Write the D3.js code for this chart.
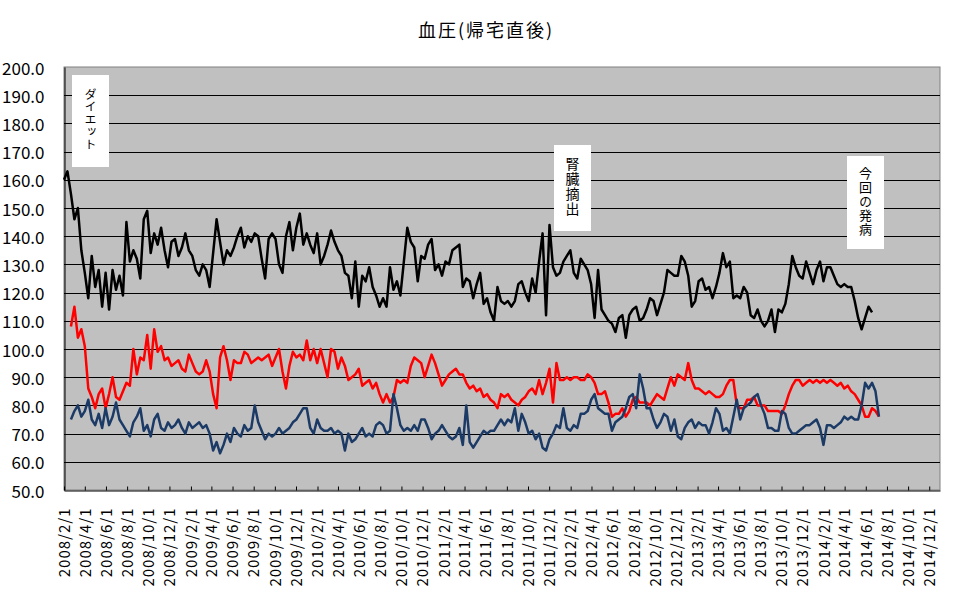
<!DOCTYPE html>
<html>
<head>
<meta charset="utf-8">
<script src="https://cdn.jsdelivr.net/npm/d3@7"></script>
<style>
  body { margin: 0; background: #fff; }
  text { font-family: "Noto Sans CJK JP", sans-serif; fill: #000; }
</style>
</head>
<body>
<script>
// 血圧(帰宅直後) - readings sampled every 10 days from the daily chart
const title = "血圧(帰宅直後)";
const startDate = new Date(2008, 1, 1);
const endDate = new Date(2015, 0, 1);
const stepDays = 10;

const systolic = [
  160, 163, 155, 146, 150, 135, 127, 118, 133, 122,
  128, 115, 127, 114, 128, 121, 126, 119, 145, 131,
  135, 132, 125, 146, 149, 134, 141, 137, 143, 135,
  129, 138, 139, 133, 136, 141, 135, 133, 128, 126,
  130, 128, 122, 134, 146, 138, 130, 135, 133, 136,
  140, 143, 136, 140, 138, 141, 140, 132, 125, 139,
  141, 139, 130, 127, 140, 145, 135, 143, 148, 137,
  141, 137, 134, 141, 130, 133, 137, 142, 138, 135,
  133, 127, 126, 118, 131, 115, 126, 124, 129, 122,
  119, 115, 118, 115, 129, 121, 124, 119, 131, 143,
  138, 136, 124, 133, 132, 137, 139, 128, 130, 126,
  131, 130, 135, 136, 137, 122, 125, 124, 118, 123,
  127, 116, 118, 113, 110, 122, 117, 116, 117, 115,
  117, 123, 124, 120, 117, 125, 120, 131, 141, 112,
  144, 129, 126, 127, 131, 133, 135, 127, 125, 132,
  130, 128, 123, 111, 128, 114, 112, 110, 109, 106,
  111, 112, 104, 112, 114, 115, 110, 111, 114, 118,
  117, 112, 116, 120, 128, 127, 126, 126, 133, 131,
  126, 115, 117, 124, 125, 121, 122, 118, 122, 127,
  134, 129, 131, 118, 119, 118, 122, 120, 112, 111,
  114, 110, 108, 110, 114, 106, 114, 113, 116, 123,
  133, 129, 126, 125, 131, 127, 123, 128, 131, 124,
  129, 129, 126, 123, 122, 123, 122, 122, 117, 111,
  107, 111, 115, 113
];

const diastolic = [
  null, null, 108, 115, 104, 107, 101, 86, 83, 79,
  84, 86, 79, 84, 90, 83, 82, 85, 88, 87,
  100, 91, 97, 96, 105, 93, 107, 99, 101, 96,
  97, 94, 95, 96, 93, 92, 98, 95, 92, 91,
  92, 96, 92, 84, 79, 97, 101, 96, 89, 96,
  95, 95, 99, 98, 95, 96, 97, 96, 97, 98,
  94, 97, 100, 92, 86, 94, 99, 97, 98, 96,
  103, 96, 100, 95, 100, 95, 90, 100, 99, 93,
  97, 94, 89, 90, 91, 93, 87, 88, 89, 86,
  88, 84, 81, 84, 81, 83, 89, 88, 89, 88,
  94, 97, 96, 95, 90, 94, 98, 95, 91, 87,
  89, 91, 92, 93, 91, 91, 88, 86, 87, 85,
  86, 83, 84, 82, 81, 79, 84, 83, 84, 82,
  81, 80, 82, 83, 85, 86, 84, 89, 84, 88,
  93, 81, 95, 89, 89, 90, 89, 90, 90, 89,
  89, 91, 90, 88, 84, 84, 85, 81, 76, 77,
  77, 79, 76, 78, 82, 83, 81, 81, 81, 80,
  82, 84, 83, 82, 86, 90, 87, 91, 90, 89,
  95, 89, 86, 86, 85, 84, 85, 84, 83, 83,
  84, 87, 89, 89, 80, 79, 79, 82, 82, 83,
  80, 80, 80, 78, 78, 78, 78, 77, 80, 84,
  87, 89, 89, 87, 88, 89, 88, 89, 88, 89,
  88, 89, 88, 87, 88, 86, 87, 85, 84, 82,
  80, 76, 76, 79, 78, 76
];

const pulse = [
  null, null, 75, 78, 80, 76, 78, 82, 75, 73,
  77, 72, 79, 73, 76, 81, 75, 73, 71, 69,
  74, 76, 79, 71, 73, 69, 75, 77, 72, 71,
  74, 72, 73, 75, 72, 70, 74, 72, 73, 74,
  72, 73, 70, 64, 67, 63, 66, 70, 67, 72,
  70, 69, 73, 71, 72, 80, 74, 71, 68, 70,
  69, 70, 72, 70, 71, 72, 74, 75, 77, 79,
  79, 72, 70, 75, 72, 71, 71, 72, 70, 71,
  70, 64, 70, 67, 68, 70, 72, 69, 70, 69,
  73, 74, 73, 70, 71, 84, 79, 73, 71, 72,
  71, 73, 71, 75, 75, 72, 68, 70, 71, 73,
  71, 69, 68, 69, 72, 66, 80, 67, 65, 67,
  69, 71, 70, 71, 71, 73, 75, 73, 75, 74,
  79, 71, 77, 74, 70, 71, 68, 70, 65, 64,
  68, 70, 73, 72, 79, 72, 71, 73, 72, 77,
  77, 78, 82, 84, 79, 78, 77, 77, 71, 74,
  75, 76, 79, 83, 84, 79, 91, 86, 79, 79,
  75, 72, 74, 77, 76, 71, 75, 69, 68, 72,
  74, 75, 72, 74, 73, 73, 70, 74, 79, 77,
  71, 72, 70, 76, 82, 75, 79, 80, 81, 83,
  84, 80, 77, 72, 72, 71, 71, 78, 77, 72,
  70, 70, 71, 72, 73, 73, 74, 75, 72, 66,
  73, 73, 72, 73, 74, 76, 75, 76, 75, 75,
  80, 88, 86, 88, 85, 76
];

const yTicks = [50, 60, 70, 80, 90, 100, 110, 120, 130, 140, 150, 160, 170, 180, 190, 200];
const noteLabels = ["ダイエット", "腎臓摘出", "今回の発病"];

// layout
const width = 962, height = 596;
const plot = {left: 64, right: 940, top: 67, bottom: 490};
const noteBoxes = [
  {x: 72, y: 75, w: 37, h: 92, first: 88, size: 12, gap: 0.6},
  {x: 554, y: 145, w: 37, h: 86, first: 157, size: 14, gap: 1},
  {x: 847, y: 156, w: 37, h: 93, first: 167, size: 13, gap: 1}
];
const series = [
  {values: systolic, color: "#000000"},
  {values: diastolic, color: "#ff0000"},
  {values: pulse, color: "#1b3a66"}
];

const x = d3.scaleTime()
    .domain([startDate, endDate])
    .range([plot.left, plot.right]);

const y = d3.scaleLinear()
    .domain([50, 200])
    .range([plot.bottom, plot.top]);

const xTicks = d3.timeMonth.range(startDate, endDate, 2);
const fmt = d3.timeFormat("%Y/%-m/%-d");

const svg = d3.select("body").append("svg")
    .attr("width", width)
    .attr("height", height)
    .attr("viewBox", [0, 0, width, height]);

svg.append("rect")
    .attr("width", width)
    .attr("height", height)
    .attr("fill", "#fff");

svg.append("text")
    .attr("x", 486)
    .attr("y", 37)
    .attr("text-anchor", "middle")
    .attr("font-size", 18)
    .attr("letter-spacing", 2)
    .text(title);

// plot area
svg.append("rect")
    .attr("x", plot.left)
    .attr("y", plot.top)
    .attr("width", plot.right - plot.left)
    .attr("height", plot.bottom - plot.top)
    .attr("fill", "#c0c0c0")
    .attr("stroke", "#808080");

svg.append("g")
    .selectAll("line")
    .data(yTicks.filter(v => v > 50 && v < 200))
    .join("line")
      .attr("x1", plot.left)
      .attr("x2", plot.right)
      .attr("y1", d => Math.round(y(d)) + 0.5)
      .attr("y2", d => Math.round(y(d)) + 0.5)
      .attr("stroke", "#000");

// y axis
const yAxis = svg.append("g")
    .attr("transform", `translate(${plot.left + 0.5},0)`)
    .call(d3.axisLeft(y).tickValues(yTicks).tickSize(0).tickPadding(20)
      .tickFormat(d3.format(".1f")));
yAxis.select(".domain").attr("stroke", "#000");
yAxis.selectAll("text")
    .attr("font-size", 17)
    .attr("font-family", "'Noto Sans CJK JP', sans-serif")
    .attr("dy", "0.42em");

// x axis: inside ticks, rotated labels
const xAxis = svg.append("g")
    .attr("transform", `translate(0,${plot.bottom + 0.5})`)
    .call(d3.axisBottom(x).tickValues(xTicks).tickSizeInner(-4).tickSizeOuter(0)
      .tickFormat(fmt));
xAxis.select(".domain").attr("stroke", "#000");
xAxis.selectAll(".tick line").attr("stroke", "#000");
xAxis.selectAll("text")
    .attr("font-size", 15)
    .attr("font-family", "'Noto Sans CJK JP', sans-serif")
    .attr("letter-spacing", 1)
    .attr("text-anchor", "end")
    .attr("y", 0)
    .attr("dy", "0.35em")
    .attr("transform", "translate(0,17) rotate(-90)");

// series
const line = d3.line()
    .defined(d => d.v != null)
    .x(d => x(d.date))
    .y(d => y(d.v));

svg.append("g")
    .selectAll("path")
    .data(series)
    .join("path")
      .attr("fill", "none")
      .attr("stroke", d => d.color)
      .attr("stroke-width", 2.5)
      .attr("stroke-linejoin", "round")
      .attr("d", s => line(s.values.map((v, i) => ({
        date: d3.timeDay.offset(startDate, i * stepDays), v}))));

// annotations: vertical text in white boxes
const notes = svg.append("g")
    .selectAll("g")
    .data(noteLabels.map((t, i) => ({text: t, box: noteBoxes[i]})))
    .join("g");

notes.append("rect")
    .attr("x", d => d.box.x)
    .attr("y", d => d.box.y)
    .attr("width", d => d.box.w)
    .attr("height", d => d.box.h)
    .attr("fill", "#fff");

notes.append("text")
    .attr("x", d => d.box.x + d.box.w / 2)
    .attr("y", d => d.box.first)
    .attr("font-size", d => d.box.size)
    .attr("letter-spacing", d => d.box.gap)
    .style("writing-mode", "vertical-rl")
    .style("text-orientation", "upright")
    .text(d => d.text);
</script>
</body>
</html>
